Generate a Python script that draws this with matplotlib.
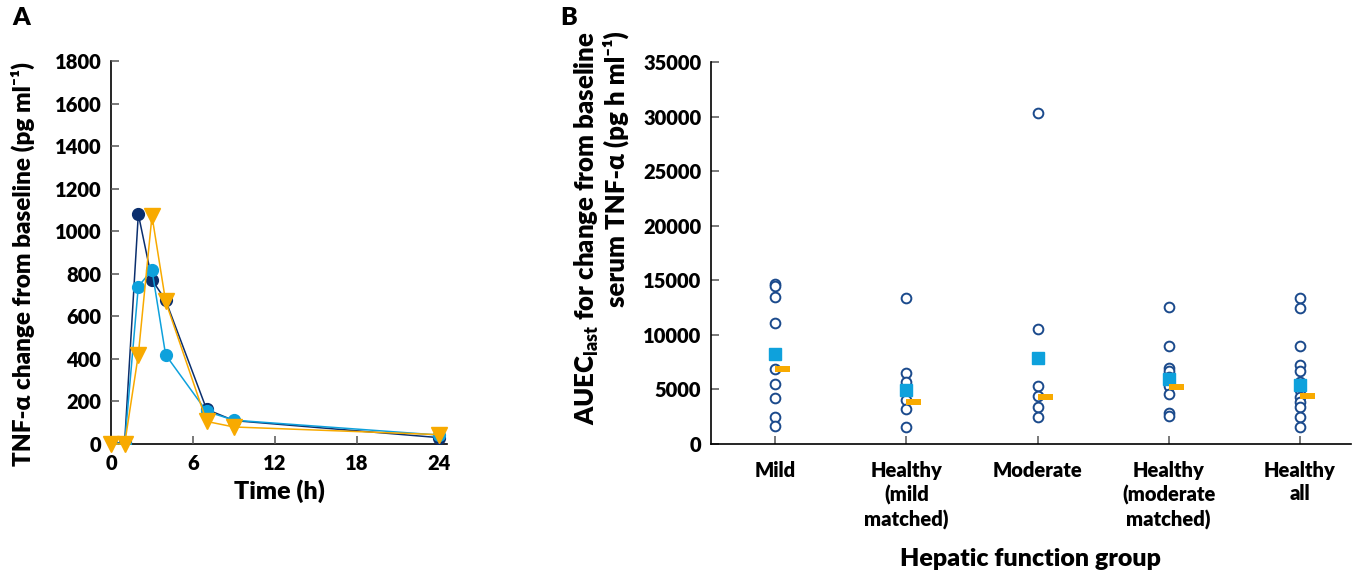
import matplotlib
matplotlib.use("Agg")
import matplotlib.pyplot as plt
from matplotlib.path import Path

plt.rcParams['font.family'] = ['Lato', 'DejaVu Sans']
plt.rcParams['font.weight'] = 'heavy'
plt.rcParams['mathtext.fontset'] = 'custom'
plt.rcParams['mathtext.rm'] = 'Lato'
plt.rcParams['mathtext.bf'] = 'Lato:bold'

# panel A: mean TNF-alpha change from baseline
times = [0, 1, 2, 3, 4, 7, 9, 24]
navy_vals = [0, 8, 1080, 772, 675, 163, 110, 30]
light_vals = [0, 2, 740, 818, 419, 153, 112, 42]
orange_vals = [0, 0, 419, 1072, 670, 106, 80, 44]

# panel B: AUEC per subject, mean (square) and median (bar)
groups = ["Mild", "Healthy\n(mild\nmatched)", "Moderate",
          "Healthy\n(moderate\nmatched)", "Healthy\nall"]
mild = [14620, 14440, 13470, 11120, 6915, 5454, 4204, 2497, 1645]
healthy_mild = [13344, 6520, 5667, 4022, 3168, 1584]
moderate = [30345, 10540, 5272, 4387, 3351, 2497]
healthy_mod = [12551, 8957, 7008, 6703, 6093, 5300, 4540, 2863, 2561]
healthy_all = [13408, 12458, 8985, 7221, 6703, 5695, 4936, 4323, 3866, 3351, 2497, 1584]
means = [8226, 4936, 7890, 5910, 5393]
medians = [6885, 3870, 4266, 5210, 4357]

navy = "#0b2f6e"
light = "#0ea1dc"
orange = "#f8aa00"
ring = "#1b4a8c"

fig = plt.figure(figsize=(13.72, 5.75), dpi=100)
W, H = 1372, 575

def style(ax):
    for s in ["top", "right"]:
        ax.spines[s].set_visible(False)
    for s in ["left", "bottom"]:
        ax.spines[s].set_linewidth(1.2)
    ax.tick_params(direction="in", length=6, width=1.1, color="#555555",
                   labelsize=14.5, pad=7)
    for lab in ax.get_xticklabels() + ax.get_yticklabels():
        lab.set_fontweight("heavy")

# ---- A ----
axA = fig.add_axes([111 / W, 1 - 444 / H, 336 / W, 383 / H])
axA.plot(times, navy_vals, color=navy, lw=1.1, marker="o", ms=8.5, zorder=3)
axA.plot(times, light_vals, color=light, lw=1.1, marker="o", ms=8.5, zorder=4)
axA.plot(times, orange_vals, color=orange, lw=1.1, marker="v", ms=11, zorder=5,
         clip_on=False)
axA.set_xlim(0, 24.6)
axA.set_ylim(0, 1800)
axA.set_xticks([0, 6, 12, 18, 24])
axA.set_yticks(range(0, 1801, 200))
style(axA)
axA.set_xlabel("Time (h)", fontsize=18, fontweight="heavy", labelpad=5)
axA.set_ylabel("TNF-α change from baseline (pg ml⁻¹)", fontsize=17.5,
               fontweight="heavy")
axA.yaxis.set_label_coords(-0.225, 0.47)
for sp in axA.spines.values():
    sp.set_zorder(1)

# ---- B ----
axB = fig.add_axes([711 / W, 1 - 444 / H, 640 / W, 382 / H])
pos = [1, 2, 3, 4, 5]
for p, vals in zip(pos, [mild, healthy_mild, moderate, healthy_mod, healthy_all]):
    axB.plot([p] * len(vals), vals, ls="none", marker="o", ms=7, mfc="white",
             mec=ring, mew=1.4, zorder=3)
axB.plot(pos, means, ls="none", marker="s", ms=8, color=light, zorder=4)
bar = Path([(0, -0.17), (1, -0.17), (1, 0.17), (0, 0.17), (0, -0.17)],
           [Path.MOVETO, Path.LINETO, Path.LINETO, Path.LINETO, Path.CLOSEPOLY])
axB.plot(pos, medians, ls="none", marker=bar, ms=22, color=orange, mew=0, zorder=5)
axB.set_xlim(0.51, 5.39)
axB.set_ylim(0, 35000)
axB.set_xticks(pos)
axB.set_xticklabels(groups, linespacing=1.3)
axB.set_yticks(range(0, 35001, 5000))
style(axB)
axB.tick_params(axis="x", pad=12)
axB.set_xlabel("Hepatic function group", fontsize=18, fontweight="heavy", labelpad=13)
axB.text(-0.172, 1.08, "AUEC$_{\\mathregular{last}}$ for change from baseline\nserum TNF-α (pg h ml⁻¹)",
         transform=axB.transAxes, rotation=90, ha="center", va="top",
         multialignment="right", fontsize=18.5, fontweight="heavy", linespacing=1.1)

fig.text(12 / W, 1 - 18 / H, "A", fontsize=18, fontweight="heavy", va="center")
fig.text(560 / W, 1 - 18 / H, "B", fontsize=18, fontweight="heavy", va="center")

fig.savefig("out.png", dpi=100)
